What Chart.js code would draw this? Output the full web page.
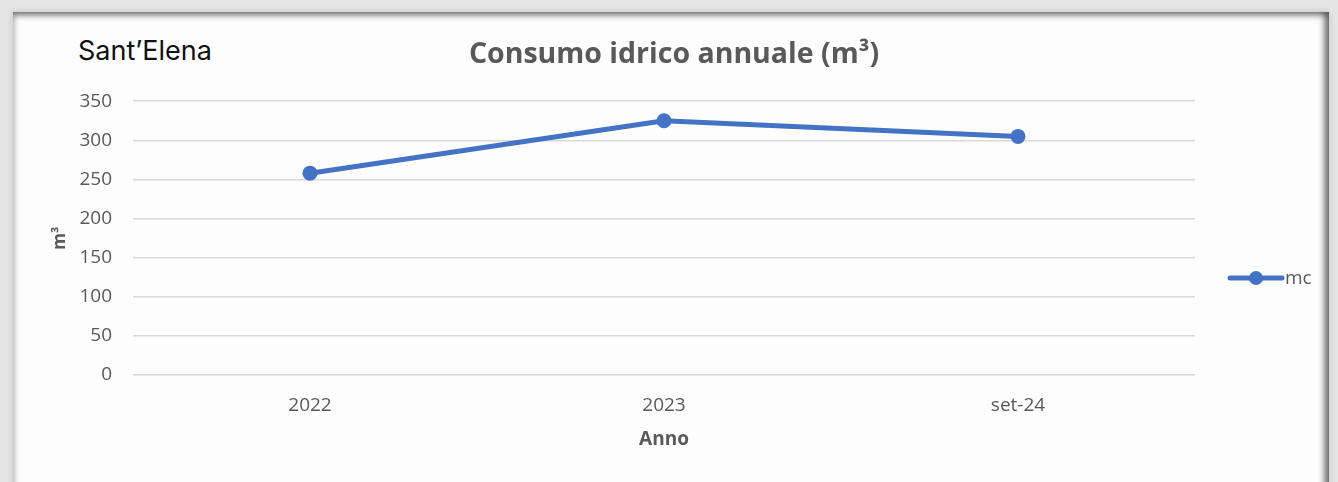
<!DOCTYPE html>
<html>
<head>
<meta charset="utf-8">
<script src="https://cdn.jsdelivr.net/npm/chart.js@4/dist/chart.umd.min.js"></script>
<style>
  html, body { margin: 0; padding: 0; }
  body { width: 1338px; height: 482px; background: #e4e4e4; position: relative; overflow: hidden; }
  .card {
    position: absolute; left: 13px; top: 12px; width: 1316px; height: 480px;
    background: #fdfdfd;
    box-shadow: inset 0 3px 7px rgba(0,0,0,0.45), inset -5px 0 6px rgba(0,0,0,0.45), 0 0 6px rgba(0,0,0,0.15);
  }
  .place {
    position: absolute; left: 78px; top: 34px;
    font-family: Inter, sans-serif; font-size: 27px; color: #111;
  }
  canvas { position: absolute; left: 0; top: 0; }
</style>
</head>
<body>
<div class="card"></div>
<div class="place">Sant’Elena</div>
<canvas id="lineChart" width="1338" height="482"></canvas>
<script>
// dati
const categories = ['2022', '2023', 'set-24'];
const consumo = [258, 325, 305];
const seriesName = 'mc';

const blue = '#4472C4';
const grey = '#595959';

// legenda disegnata a mano (linea con marcatore, stile Excel)
const sideLegend = {
    id: 'sideLegend',
    afterDraw(chart) {
        const ctx = chart.ctx;
        const y = (chart.chartArea.top + chart.chartArea.bottom) / 2 + 40;
        const x0 = 1230, x1 = 1282;
        ctx.save();
        ctx.strokeStyle = blue;
        ctx.lineWidth = 5;
        ctx.lineCap = 'round';
        ctx.beginPath();
        ctx.moveTo(x0, y);
        ctx.lineTo(x1, y);
        ctx.stroke();
        ctx.fillStyle = blue;
        ctx.beginPath();
        ctx.arc((x0 + x1) / 2, y, 7, 0, Math.PI * 2);
        ctx.fill();
        ctx.fillStyle = grey;
        ctx.font = '19px "Open Sans"';
        ctx.textBaseline = 'middle';
        ctx.fillText(chart.data.datasets[0].label, x1 + 3, y);
        ctx.restore();
    }
};

const ctx = document.getElementById('lineChart').getContext('2d');
new Chart(ctx, {
    type: 'line',
    data: {
        labels: categories,
        datasets: [{
            label: seriesName,
            data: consumo,
            borderColor: blue,
            backgroundColor: blue,
            borderWidth: 5,
            pointRadius: 7.5,
            pointHoverRadius: 7.5,
            pointBackgroundColor: blue,
            pointBorderWidth: 0,
            tension: 0
        }]
    },
    options: {
        responsive: false,
        animation: false,
        layout: { padding: { left: 50, right: 40, top: 0, bottom: 31 } },
        plugins: {
            legend: { display: false },
            tooltip: { enabled: false },
            title: {
                display: true,
                text: 'Consumo idrico annuale (m³)',
                color: grey,
                font: { family: '"Open Sans"', size: 28.5, weight: 'bold' },
                padding: { top: 38, bottom: 29 }
            }
        },
        scales: {
            x: {
                offset: true,
                grid: { display: false, drawTicks: false },
                border: { display: false },
                ticks: { color: grey, font: { family: '"Open Sans"', size: 19 }, padding: 19 },
                title: {
                    display: true, text: 'Anno', color: grey,
                    font: { family: '"Open Sans"', size: 19, weight: 'bold' },
                    padding: { top: 0, bottom: 0 }
                },
                afterFit(scale) { scale.height = 76; }
            },
            y: {
                min: 0, max: 350,
                grid: { color: '#d9d9d9', lineWidth: 1.5, drawTicks: false },
                border: { display: false },
                ticks: { stepSize: 50, color: grey, font: { family: '"Open Sans"', size: 19 }, padding: 21 },
                title: {
                    display: true, text: 'm³', color: grey,
                    font: { family: '"Open Sans"', size: 17, weight: 'bold' },
                    padding: { top: 0, bottom: 0 }
                },
                afterFit(scale) { scale.width = 83; }
            },
            // spazio vuoto a destra per la legenda
            legendSpace: {
                type: 'linear',
                position: 'right',
                grid: { display: false, drawTicks: false },
                border: { display: false },
                ticks: { display: false },
                afterFit(scale) { scale.width = 103; }
            }
        }
    },
    plugins: [sideLegend]
});
</script>
</body>
</html>
